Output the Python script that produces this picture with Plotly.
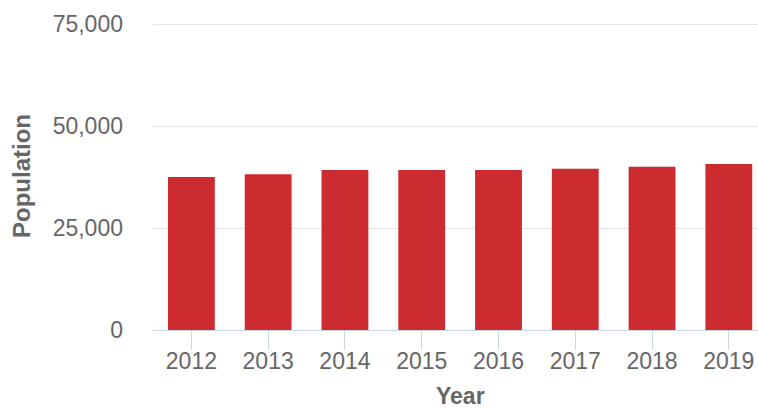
import plotly.graph_objects as go

years = ["2012", "2013", "2014", "2015", "2016", "2017", "2018", "2019"]
population = [37500, 38200, 39200, 39200, 39200, 39500, 40000, 40700]
y_ticks = [0, 25000, 50000, 75000]
y_tick_labels = ["0", "25,000", "50,000", "75,000"]

FONT = "Liberation Sans, Arial, sans-serif"

fig = go.Figure(
    go.Bar(
        x=years,
        y=population,
        marker=dict(color="#cc2b30", line=dict(width=0)),
        width=0.61,
    )
)

fig.update_layout(
    width=758,
    height=410,
    margin=dict(l=153, r=0, t=22, b=80),
    paper_bgcolor="white",
    plot_bgcolor="white",
    showlegend=False,
    font=dict(family=FONT, color="#666666", size=23),
    annotations=[
        dict(
            text="<b>Year</b>",
            xref="paper", yref="paper",
            x=(460 - 153) / 605, y=-(396 - 330) / 308,
            xanchor="center", yanchor="middle",
            showarrow=False,
            font=dict(size=23, color="#666666"),
        )
    ],
)

fig.update_xaxes(
    type="category",
    range=[-0.5, 7.38],
    automargin=False,
    showline=True,
    linecolor="#ccd6eb",
    linewidth=1,
    ticks="outside",
    ticklen=19,
    tickwidth=1,
    tickcolor="#ccd6eb",
    showgrid=False,
    tickfont=dict(size=23, color="#666666"),
    ticklabelstandoff=-9,
)

fig.update_yaxes(
    range=[0, 75490],
    automargin=False,
    tickvals=y_ticks,
    ticktext=y_tick_labels,
    showgrid=True,
    gridcolor="#e6e6e6",
    gridwidth=1,
    zeroline=False,
    showline=False,
    ticks="",
    tickfont=dict(size=23, color="#666666"),
    ticklabelstandoff=29,
    title=dict(text="<b>Population</b>", font=dict(size=24, color="#666666"), standoff=15),
)

fig.write_html(
    "out.html",
    config={"displayModeBar": False},
    post_script="document.body.style.margin='0';document.body.style.overflow='hidden';",
)
